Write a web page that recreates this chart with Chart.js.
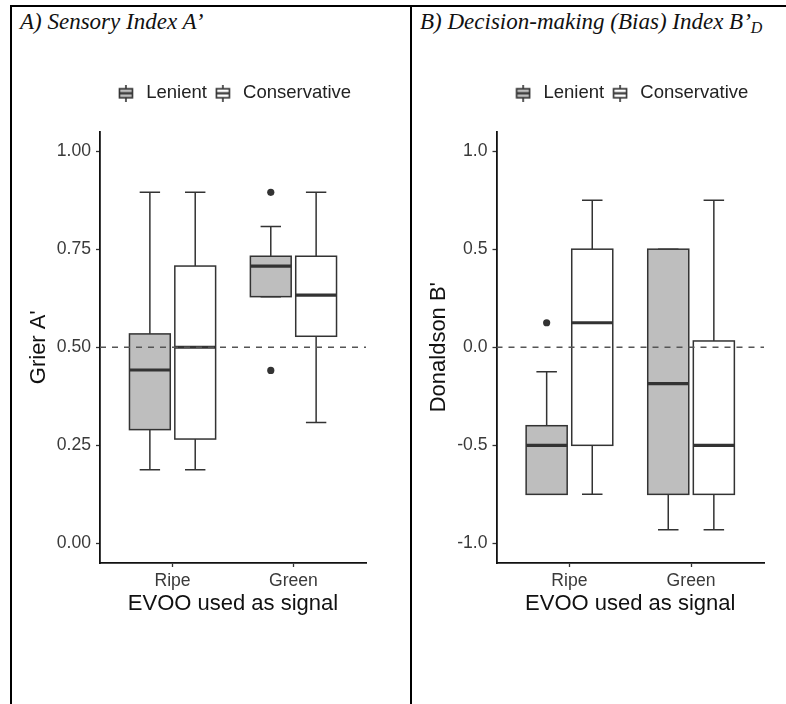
<!DOCTYPE html>
<html>
<head>
<meta charset="utf-8">
<script src="https://cdn.jsdelivr.net/npm/chart.js@4.4.1/dist/chart.umd.min.js"></script>
<style>
  html, body { margin: 0; padding: 0; background: #fff; }
  body { width: 786px; height: 704px; position: relative; overflow: hidden; }
  .frame { position: absolute; left: 10px; top: 5px; width: 800px; height: 720px;
           border-left: 2px solid #000; border-top: 2px solid #000; }
  .divider { position: absolute; left: 410px; top: 5px; width: 2px; height: 720px; background: #000; }
  .ptitle { position: absolute; top: 10px; font: italic 23px/23px "Liberation Serif", "Times New Roman", serif;
            color: #111; white-space: nowrap; }
  .ptitle sub { font-size: 16px; vertical-align: -4px; }
  canvas { position: absolute; top: 7px; }
</style>
</head>
<body>
<div class="frame"></div>
<div class="divider"></div>
<div class="ptitle" style="left:20px">A) Sensory Index A’</div>
<div class="ptitle" style="left:420px">B) Decision-making (Bias) Index B’<sub>D</sub></div>
<canvas id="cA" width="398" height="697" style="left:12px;width:398px;height:697px"></canvas>
<canvas id="cB" width="374" height="697" style="left:412px;width:374px;height:697px"></canvas>
<script>
/* Box plots of A' and B'_D by signal oil and response group */

// categories
var GROUPS = ["Ripe", "Green"];
var SERIES = ["Lenient", "Conservative"];

// box stats per group: [lower whisker, Q1, median, Q3, upper whisker]
var A_LENIENT = [[0.188, 0.290, 0.442, 0.534, 0.895], [0.629, 0.629, 0.707, 0.732, 0.808]];
var A_CONSERV = [[0.188, 0.266, 0.500, 0.707, 0.895], [0.308, 0.528, 0.633, 0.732, 0.895]];
var A_LEN_OUT = [[], [0.895, 0.441]];
var A_CON_OUT = [[], []];

var B_LENIENT = [[-0.75, -0.75, -0.50, -0.40, -0.125], [-0.93, -0.75, -0.185, 0.50, 0.50]];
var B_CONSERV = [[-0.75, -0.50, 0.125, 0.50, 0.75], [-0.93, -0.75, -0.50, 0.032, 0.75]];
var B_LEN_OUT = [[0.125], []];
var B_CON_OUT = [[], []];

// axes
var A_TICKS = [0, 0.25, 0.5, 0.75, 1];
var B_TICKS = [-1, -0.5, 0, 0.5, 1];
var A_REF = 0.5, B_REF = 0;

var FILLS = ["#bebebe", "#ffffff"];
var INK = "#333333";
var DODGE = 0.1875, BOXW = 0.3375;

Chart.defaults.font.family = "'Liberation Sans', Arial, sans-serif";
Chart.defaults.animation = false;

function keyIcon(fill) {
  var c = document.createElement("canvas");
  c.width = 16; c.height = 17;
  var g = c.getContext("2d");
  g.strokeStyle = INK; g.lineWidth = 1.6;
  g.beginPath(); g.moveTo(8, 0); g.lineTo(8, 4); g.moveTo(8, 13); g.lineTo(8, 17); g.stroke();
  g.fillStyle = fill; g.fillRect(1.5, 4, 13, 9); g.strokeRect(1.5, 4, 13, 9);
  g.lineWidth = 2.2; g.beginPath(); g.moveTo(1.5, 8.5); g.lineTo(14.5, 8.5); g.stroke();
  return c;
}
var ICONS = [keyIcon(FILLS[0]), keyIcon(FILLS[1])];

var boxPlugin = {
  id: "boxes",
  beforeDatasetsDraw: function (chart, args, opts) {
    var x = chart.scales.x, y = chart.scales.y, ctx = chart.ctx;
    ctx.save();
    opts.stats.forEach(function (groups, k) {
      groups.forEach(function (s, g) {
        var pos = g + 1 + (k === 0 ? -DODGE : DODGE);
        var l = x.getPixelForValue(pos - BOXW / 2), r = x.getPixelForValue(pos + BOXW / 2);
        var cl = x.getPixelForValue(pos - BOXW / 4), cr = x.getPixelForValue(pos + BOXW / 4);
        var m = x.getPixelForValue(pos);
        var lo = y.getPixelForValue(s[0]), q1 = y.getPixelForValue(s[1]), md = y.getPixelForValue(s[2]),
            q3 = y.getPixelForValue(s[3]), hi = y.getPixelForValue(s[4]);
        ctx.strokeStyle = INK; ctx.lineWidth = 1.5;
        ctx.beginPath();
        ctx.moveTo(m, q3); ctx.lineTo(m, hi); ctx.moveTo(cl, hi); ctx.lineTo(cr, hi);
        ctx.moveTo(m, q1); ctx.lineTo(m, lo); ctx.moveTo(cl, lo); ctx.lineTo(cr, lo);
        ctx.stroke();
        ctx.fillStyle = FILLS[k];
        ctx.fillRect(l, q3, r - l, q1 - q3);
        ctx.strokeRect(l, q3, r - l, q1 - q3);
        ctx.lineWidth = 3.2;
        ctx.beginPath(); ctx.moveTo(l, md); ctx.lineTo(r, md); ctx.stroke();
      });
    });
    ctx.restore();
  },
  afterDatasetsDraw: function (chart, args, opts) {
    var a = chart.chartArea, y = chart.scales.y.getPixelForValue(opts.ref), ctx = chart.ctx;
    ctx.save();
    ctx.strokeStyle = "#555"; ctx.lineWidth = 1.5; ctx.setLineDash([6, 6]);
    ctx.beginPath(); ctx.moveTo(a.left, y); ctx.lineTo(a.right, y); ctx.stroke();
    ctx.restore();
  }
};

function outlierPoints(out, k) {
  var pts = [];
  out.forEach(function (vals, g) {
    vals.forEach(function (v) { pts.push({ x: g + 1 + (k === 0 ? -DODGE : DODGE), y: v }); });
  });
  return pts;
}

function panel(id, p) {
  new Chart(document.getElementById(id), {
    type: "scatter",
    data: { datasets: [
      { label: SERIES[0], data: outlierPoints(p.out[0], 0), backgroundColor: INK, borderWidth: 0, pointRadius: 3.6 },
      { label: SERIES[1], data: outlierPoints(p.out[1], 1), backgroundColor: INK, borderWidth: 0, pointRadius: 3.6 }
    ] },
    plugins: [boxPlugin],
    options: {
      responsive: false,
      layout: { padding: { left: 10, right: p.padRight, top: 72, bottom: 87 } },
      plugins: {
        boxes: { stats: p.stats, ref: p.ref },
        tooltip: { enabled: false },
        // empty title used as a gap between the legend and the plot
        title: { display: true, text: "", weight: 500, padding: { top: 18, bottom: 0 },
                 font: { size: 1, lineHeight: 1 } },
        legend: {
          display: true, position: "top", fullSize: false,
          labels: {
            usePointStyle: true, pointStyleWidth: 22, padding: 5, color: "#222",
            font: { size: 18.5 },
            generateLabels: function () {
              return SERIES.map(function (s, i) {
                return { text: s, pointStyle: ICONS[i], datasetIndex: i, lineWidth: 0,
                         fillStyle: FILLS[i], strokeStyle: INK, fontColor: "#222" };
              });
            }
          }
        }
      },
      scales: {
        x: {
          type: "linear", min: 0.4, max: 2.6,
          afterBuildTicks: function (s) { s.ticks = GROUPS.map(function (g, i) { return { value: i + 1 }; }); },
          afterFit: function (s) { s.height = 54; },
          ticks: { autoSkip: false, maxRotation: 0, padding: 4, color: "#3a3a3a", font: { size: 17.6 },
                   callback: function (v) { return GROUPS[v - 1]; } },
          grid: { drawOnChartArea: false, drawTicks: true, tickLength: 4, tickColor: INK, tickWidth: 1.3 },
          border: { display: true, color: "#111", width: 1.8 },
          title: { display: true, text: "EVOO used as signal", color: "#111", font: { size: 22 }, padding: 0 }
        },
        y: {
          min: p.min, max: p.max,
          afterBuildTicks: function (s) { s.ticks = p.ticks.map(function (v) { return { value: v }; }); },
          afterFit: function (s) { s.width = p.axisW; },
          ticks: { autoSkip: false, padding: 5, color: "#3a3a3a", font: { size: 17.6 },
                   callback: function (v) { return v.toFixed(p.dec); } },
          grid: { drawOnChartArea: false, drawTicks: true, tickLength: 4, tickColor: INK, tickWidth: 1.3 },
          border: { display: true, color: "#111", width: 1.8 },
          title: { display: true, text: p.title, color: "#111", font: { size: 22 }, padding: { top: 4, bottom: 0 } }
        }
      }
    }
  });
}

panel("cA", { stats: [A_LENIENT, A_CONSERV], out: [A_LEN_OUT, A_CON_OUT], ref: A_REF,
  min: -0.05, max: 1.05, ticks: A_TICKS, dec: 2, title: "Grier A'", axisW: 78, padRight: 44 });
panel("cB", { stats: [B_LENIENT, B_CONSERV], out: [B_LEN_OUT, B_CON_OUT], ref: B_REF,
  min: -1.1, max: 1.1, ticks: B_TICKS, dec: 1, title: "Donaldson B'", axisW: 74.5, padRight: 22 });
</script>
</body>
</html>
